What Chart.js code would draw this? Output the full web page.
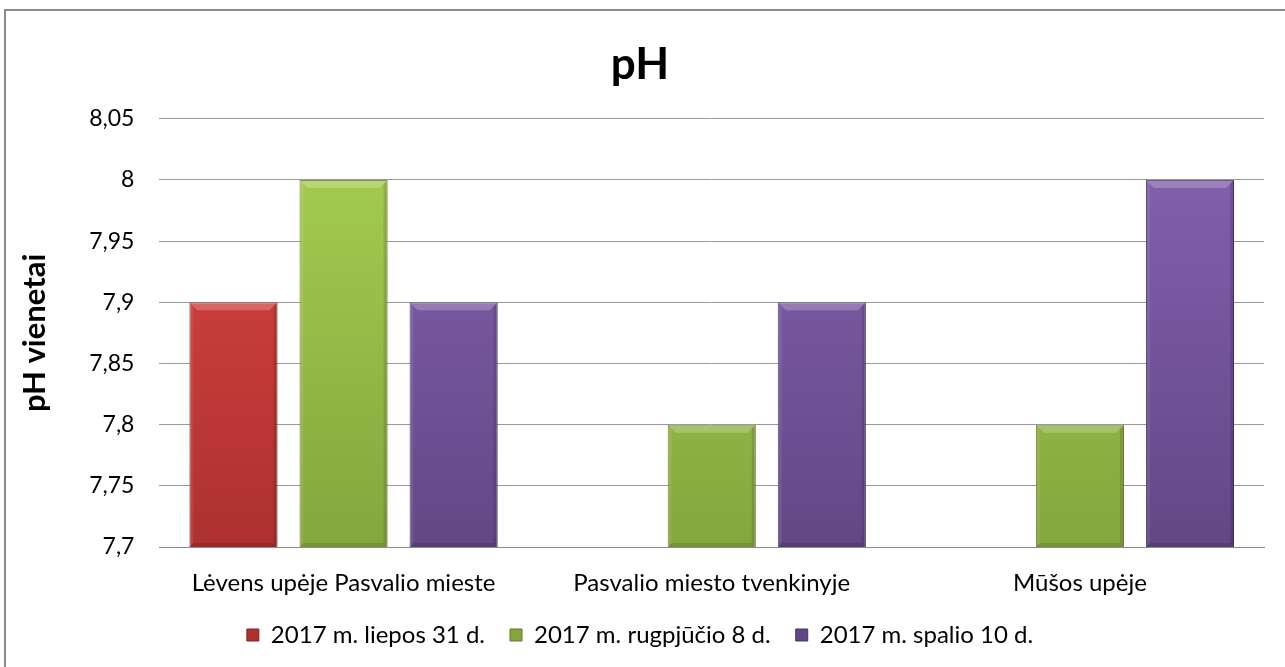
<!DOCTYPE html>
<html>
<head>
<meta charset="utf-8">
<script src="https://cdn.jsdelivr.net/npm/chart.js@4/dist/chart.umd.min.js"></script>
<style>
    html, body { margin: 0; padding: 0; background: #fff; overflow: hidden; }
    #frame {
        position: absolute; left: 4px; top: 9px;
        width: 1300px; height: 700px;
        border-left: 2px solid #8c8c8c; border-top: 2px solid #8c8c8c;
    }
    #wrap { position: absolute; left: 0; top: 0; width: 1285px; height: 667px; }
</style>
</head>
<body>
<div id="frame"></div>
<div id="wrap"><canvas id="phChart"></canvas></div>
<script>
// Data
const categories = ['Lėvens upėje Pasvalio mieste', 'Pasvalio miesto tvenkinyje', 'Mūšos upėje'];
const seriesNames = ['2017 m. liepos 31 d.', '2017 m. rugpjūčio 8 d.', '2017 m. spalio 10 d.'];
const valuesJuly = [7.9, null, null];
const valuesAugust = [8.0, 7.8, 7.8];
const valuesOctober = [7.9, 7.9, 8.0];
const yMin = 7.7, yMax = 8.05, yStep = 0.05;

// top / bottom colours for the bevelled look
const palette = [
    { top: '#dd4643', bottom: '#ad312f', edge: '#7f2422' },
    { top: '#a8d052', bottom: '#84a63c', edge: '#61792c' },
    { top: '#8663b2', bottom: '#624786', edge: '#463261' }
];

function barFill(i) {
    return (ctx) => {
        const area = ctx.chart.chartArea;
        if (!area) return palette[i].top;
        const g = ctx.chart.ctx.createLinearGradient(0, area.top, 0, area.bottom);
        g.addColorStop(0, palette[i].top);
        g.addColorStop(1, palette[i].bottom);
        return g;
    };
}

// small bevel on each bar, drawn over the library's own bar rectangles
const bevel = {
    id: 'bevel',
    afterDatasetsDraw(chart) {
        const c = chart.ctx;
        const b = 8, s = 4;
        chart.data.datasets.forEach((ds, i) => {
            chart.getDatasetMeta(i).data.forEach((bar, j) => {
                if (ds.data[j] == null) return;
                const { x, y, base, width } = bar.getProps(['x', 'y', 'base', 'width'], true);
                const bottom = Math.min(base, chart.chartArea.bottom);
                const l = x - width / 2, r = x + width / 2;
                c.save();
                c.fillStyle = 'rgba(255,255,255,0.22)';
                c.beginPath();
                c.moveTo(l, y); c.lineTo(r, y); c.lineTo(r - b, y + b); c.lineTo(l + b, y + b);
                c.fill();
                c.fillStyle = 'rgba(0,0,0,0.12)';
                c.beginPath();
                c.moveTo(r, y); c.lineTo(r, bottom); c.lineTo(r - s, bottom - s); c.lineTo(r - s, y + s);
                c.fill();
                c.beginPath();
                c.moveTo(l, bottom); c.lineTo(r, bottom); c.lineTo(r - s, bottom - s); c.lineTo(l + s, bottom - s);
                c.fill();
                c.fillStyle = 'rgba(255,255,255,0.08)';
                c.beginPath();
                c.moveTo(l, y); c.lineTo(l, bottom); c.lineTo(l + s, bottom - s); c.lineTo(l + s, y + s);
                c.fill();
                c.restore();
            });
        });
    }
};

const fontFam = 'Lato, "Open Sans", sans-serif';

function fmt(v) {
    return String(+Number(v).toFixed(2)).replace('.', ',');
}

const datasets = [valuesJuly, valuesAugust, valuesOctober].map((vals, i) => ({
    label: seriesNames[i],
    data: vals,
    backgroundColor: barFill(i),
    borderColor: palette[i].edge,
    borderWidth: 1,
    borderSkipped: false,
    categoryPercentage: 0.897,
    barPercentage: 0.8
}));

new Chart(document.getElementById('phChart'), {
    type: 'bar',
    data: { labels: categories, datasets: datasets },
    plugins: [bevel],
    options: {
        responsive: true,
        maintainAspectRatio: false,
        animation: false,
        layout: { padding: { left: 16, right: 21, top: 38, bottom: 10 } },
        plugins: {
            title: {
                display: true,
                text: 'pH',
                color: '#000',
                font: { family: fontFam, size: 44, weight: 'bold' },
                padding: { top: 0, bottom: 28 }
            },
            legend: {
                position: 'bottom',
                labels: {
                    color: '#000',
                    font: { family: fontFam, size: 24 },
                    boxWidth: 12,
                    boxHeight: 12,
                    padding: 25
                }
            },
            tooltip: { enabled: false }
        },
        scales: {
            x: {
                grid: { display: false, drawTicks: false },
                border: { color: '#8c8c8c', width: 1 },
                ticks: {
                    color: '#000',
                    font: { family: fontFam, size: 24 },
                    padding: 22
                },
                // the label row alone, without extra padding under it
                afterFit: (scale) => { scale.height = 51; }
            },
            y: {
                min: yMin,
                max: yMax,
                title: {
                    display: true,
                    text: 'pH vienetai',
                    color: '#000',
                    font: { family: fontFam, size: 31, weight: 'bold' },
                    padding: { top: 0, bottom: 11 }
                },
                grid: { color: '#999999', drawTicks: false },
                border: { display: false },
                ticks: {
                    stepSize: yStep,
                    color: '#000',
                    font: { family: fontFam, size: 23 },
                    padding: 25,
                    callback: (v) => fmt(v)
                }
            }
        }
    }
});
</script>
</body>
</html>
